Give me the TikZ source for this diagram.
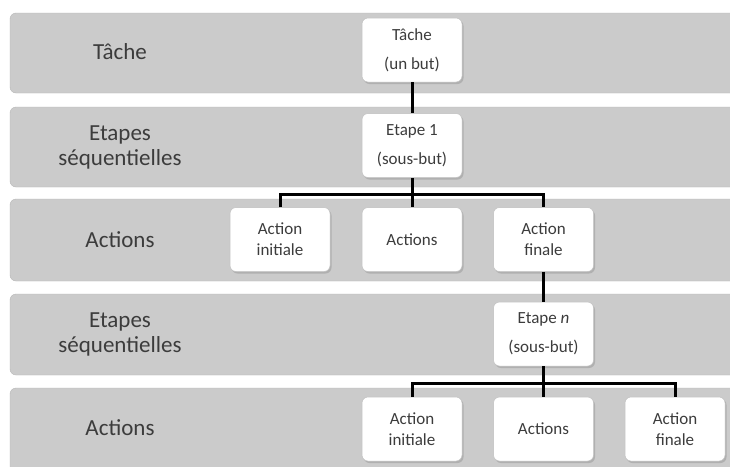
\documentclass[tikz,border=0pt]{standalone}
\usepackage{fontspec}
\setmainfont{Carlito}
\usetikzlibrary{shadows}
\definecolor{bandgray}{HTML}{CBCBCB}
\definecolor{txtgray}{HTML}{3C3C3C}
\tikzset{
  band/.style={fill=bandgray, draw=bandgray!90!black, line width=0.4pt, rounded corners=6pt},
  bandlabel/.style={text=txtgray, font=\fontsize{23}{25}\selectfont, align=center, anchor=center},
  box/.style={fill=white, draw=black!25, line width=0.5pt, rounded corners=6pt,
    minimum width=100pt, minimum height=64pt, inner sep=0pt, align=center,
    text=txtgray, font=\fontsize{17}{21}\selectfont,
    drop shadow={opacity=0.35, shadow xshift=1.5pt, shadow yshift=-2pt}},
  tallbox/.style={box, font=\fontsize{17}{29}\selectfont},
  conn/.style={draw=black, line width=3pt}
}
\begin{document}
\begin{tikzpicture}[x=1pt,y=-1pt]
\clip (0,0) rectangle (730,466);
\fill[white] (0,0) rectangle (730,466);
% bands
\draw[band] (10,13) rectangle (760,93);
\draw[band] (10,107) rectangle (760,187);
\draw[band] (10,199) rectangle (760,281);
\draw[band] (10,294) rectangle (760,375);
\draw[band] (10,388) rectangle (760,490);
% band labels
\node[bandlabel] (l1) at (120,52) {Tâche};
\node[bandlabel] (l2) at (120,147) {Etapes\\séquentielles};
\node[bandlabel] (l3) at (120,240) {Actions};
\node[bandlabel] (l4) at (120,334) {Etapes\\séquentielles};
\node[bandlabel] (l5) at (120,428) {Actions};
% boxes
\node[tallbox] (t) at (412,50) {Tâche\\(un but)};
\node[tallbox] (e1) at (412,145.5) {Etape 1\\(sous-but)};
\node[box] (ai1) at (280,239.5) {Action\\initiale};
\node[box] (ac1) at (412,239.5) {Actions};
\node[box] (af1) at (543.5,239.5) {Action\\finale};
\node[tallbox] (en) at (543.5,334) {Etape \textit{n}\\(sous-but)};
\node[box] (ai2) at (412,429) {Action\\initiale};
\node[box] (ac2) at (543.5,429) {Actions};
\node[box] (af2) at (675,429) {Action\\finale};
% connectors
\coordinate (j1) at (412,194);
\coordinate (j2) at (543.5,383);
\draw[conn] (t.south) -- (e1.north);
\draw[conn] (e1.south) -- (ac1.north);
\draw[conn] (ai1.north) |- (j1) -| (af1.north);
\draw[conn] (af1.south) -- (en.north);
\draw[conn] (en.south) -- (ac2.north);
\draw[conn] (ai2.north) |- (j2) -| (af2.north);
\end{tikzpicture}
\end{document}
